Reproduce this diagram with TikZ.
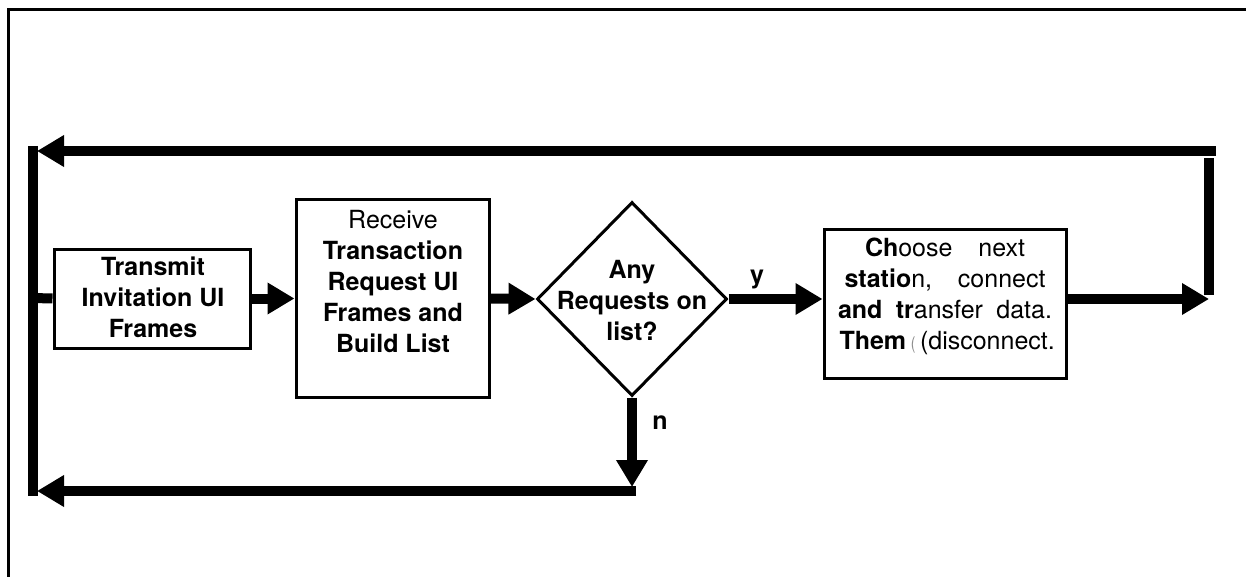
\documentclass[tikz,border=0pt]{standalone}
\usepackage{fontspec}
\setmainfont{TeX Gyre Heros}
\usetikzlibrary{arrows.meta,shapes.geometric}
\begin{document}
\begin{tikzpicture}[x=1pt,y=-1pt,
  box/.style={draw, line width=3pt, inner sep=0pt},
  txt/.style={font=\fontsize{25}{31}\selectfont, align=center, inner sep=0pt},
  flow/.style={line width=10pt, -{Triangle[length=27pt,width=30pt]}},
  wire/.style={line width=10pt},
  frame/.style={line width=3pt}]
\useasboundingbox (0,0) rectangle (1246,577);
% scan frame (top and left edges only)
\draw[frame] (8.5,577) -- (8.5,9.5) -- (1246,9.5);

% boxes
\node[box, minimum width=196pt, minimum height=99pt] (transmit) at (152,298.5) {};
\node[txt] (transmittext) at (153,297.5) {\bfseries Transmit\\\bfseries Invitation UI\\\bfseries Frames};

\node[box, minimum width=193pt, minimum height=197pt] (receive) at (392.5,298.5) {};
\node[txt] (receivetext) at (393,281) {Receive\\\bfseries Transaction\\\bfseries Request UI\\\bfseries Frames and\\\bfseries Build List};

\node[draw, diamond, line width=3pt, minimum width=190pt, minimum height=194pt, inner sep=0pt] (decide) at (632,299) {};
\node[txt] (decidetext) at (632,300.5) {\bfseries Any\\\bfseries Requests on\\\bfseries list?};

\node[box, minimum width=242pt, minimum height=148pt] (choose) at (945,304) {};
\node[txt] (choosetext) at (945,296) {\makebox[160pt][s]{\textbf{Ch}oose next}\\
  \makebox[201pt][s]{\textbf{statio}n, connect}\\
  \makebox[214pt][s]{\textbf{and tr}ansfer data.}\\
  \makebox[211pt][s]{\textbf{Them} \textcolor{black!45}{\scalebox{0.55}[0.7]{(}} (disconnect.}};

% corner points
\coordinate (rbot) at (1209,299);
\coordinate (rtop) at (1209,158);
\coordinate (ttop) at (1216,151);
\coordinate (ltip) at (37,151);
\coordinate (lcol) at (32.5,146);
\coordinate (lbot) at (32.5,496);
\coordinate (lmid) at (32.5,298);
\coordinate (ncorner) at (632,487);
\coordinate (nline) at (636,491);
\coordinate (btip) at (37,491);

% main flow
\draw[flow] (transmit.east) -- (receive.west);
\draw[flow] (receive.east) -- (decide.west);
\draw[flow] (decide.east) -- (decide.east -| choose.west);
\node[txt, font=\fontsize{25}{31}\selectfont\bfseries] (ylab) at (757,279) {y};

% loop back from choose
\draw[flow] (rbot -| choose.east) -- (rbot);
\draw[wire] ([yshift=4pt]rbot) -- (rtop);
\draw[flow] (ttop) -- (ltip);

% no branch
\draw[flow] (decide.south) -- (ncorner);
\node[txt, font=\fontsize{25}{31}\selectfont\bfseries] (nlab) at (660,423) {n};
\draw[flow] (nline) -- (btip);

% left return column
\draw[wire] (lcol) -- (lbot);
\draw[wire] (lmid) -- (transmit.west);
\end{tikzpicture}
\end{document}
